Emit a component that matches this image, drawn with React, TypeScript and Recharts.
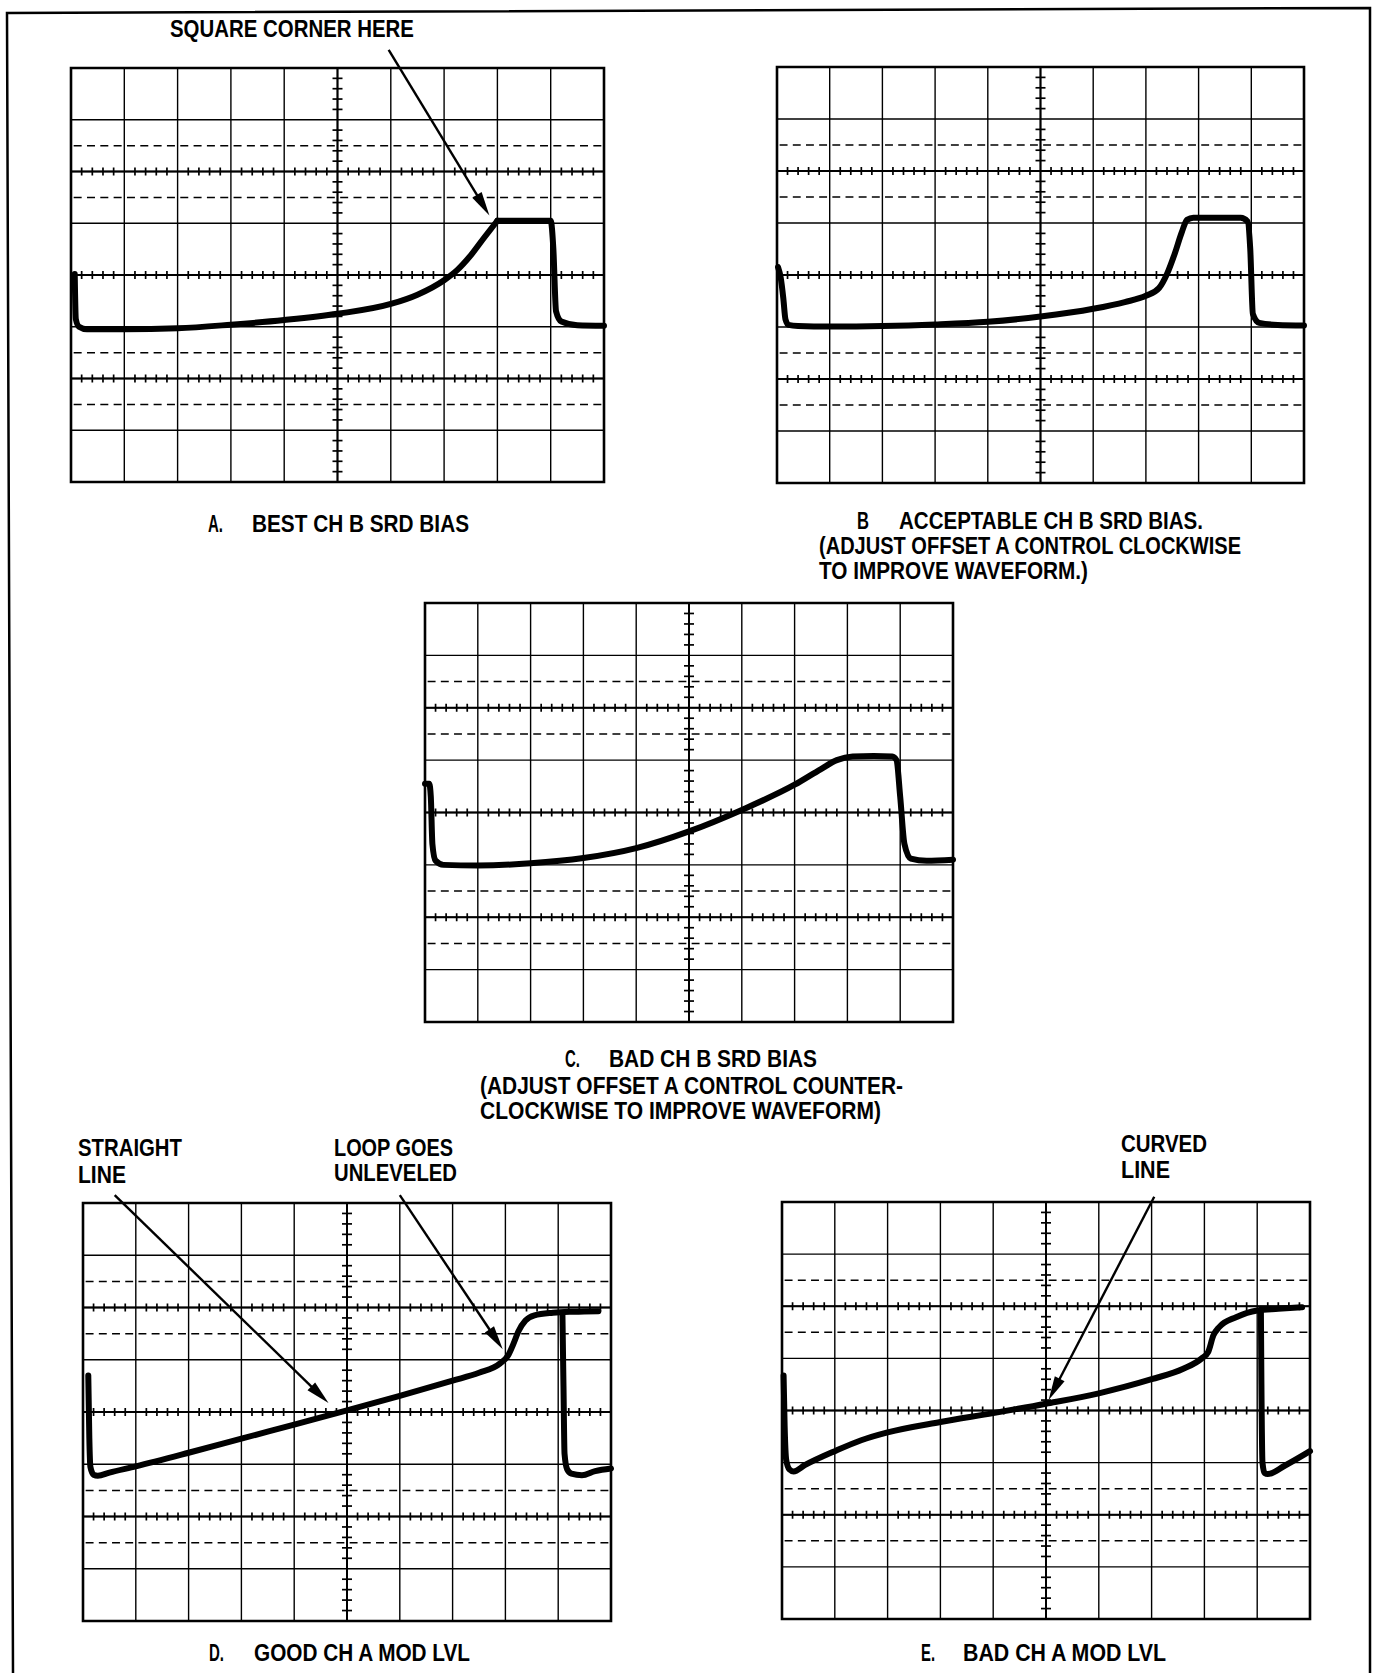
import React from "react"
import { ComposedChart, Line, Scatter, XAxis, YAxis, CartesianGrid, ReferenceLine, ReferenceArea } from "recharts"

// graticule: 10 x 8 divisions, centre at (5, 0)
const X_DIVS = [0, 1, 2, 3, 4, 5, 6, 7, 8, 9, 10]
const Y_DIVS = [-4, -3, -2, -1, 0, 1, 2, 3, 4]
const TICK_ROWS = [2, 0, -2]
const TICK_COL = 5
const DASH_ROWS = [2.5, 1.5, -1.5, -2.5]
const SUB = [0.2, 0.4, 0.6, 0.8]

// traces (x in divisions, y in divisions from centre)
const A_RISE = [
  { x: 0.07, y: 0.02 }, { x: 0.09, y: -0.85 }, { x: 0.15, y: -1.0 }, { x: 0.3, y: -1.05 },
  { x: 1, y: -1.05 }, { x: 2, y: -1.03 }, { x: 3, y: -0.96 }, { x: 4, y: -0.87 },
  { x: 5, y: -0.75 }, { x: 6, y: -0.56 }, { x: 6.5, y: -0.38 }, { x: 7, y: -0.1 },
  { x: 7.25, y: 0.1 }, { x: 7.5, y: 0.38 }, { x: 7.75, y: 0.72 }, { x: 8.0, y: 1.05 },
]
const A_PULSE = [
  { x: 8.0, y: 1.05 }, { x: 9.0, y: 1.05 }, { x: 9.05, y: 0.5 }, { x: 9.1, y: -0.7 },
  { x: 9.2, y: -0.9 }, { x: 9.5, y: -0.97 }, { x: 10, y: -0.98 },
]

const B_TRACE = [
  { x: 0.02, y: 0.15 }, { x: 0.07, y: -0.05 }, { x: 0.12, y: -0.45 }, { x: 0.16, y: -0.85 },
  { x: 0.22, y: -0.96 }, { x: 0.4, y: -0.98 }, { x: 1, y: -0.99 }, { x: 2, y: -0.98 },
  { x: 3, y: -0.95 }, { x: 4, y: -0.9 }, { x: 5, y: -0.8 }, { x: 6, y: -0.65 },
  { x: 6.6, y: -0.52 }, { x: 7.0, y: -0.4 }, { x: 7.25, y: -0.25 }, { x: 7.4, y: 0.02 },
  { x: 7.55, y: 0.42 }, { x: 7.68, y: 0.82 }, { x: 7.78, y: 1.06 }, { x: 7.9, y: 1.1 },
  { x: 8.8, y: 1.1 }, { x: 8.93, y: 1.03 }, { x: 8.98, y: 0.5 }, { x: 9.03, y: -0.75 },
  { x: 9.15, y: -0.92 }, { x: 9.5, y: -0.96 }, { x: 10, y: -0.97 },
]

const C_TRACE = [
  { x: 0.0, y: 0.55 }, { x: 0.08, y: 0.55 }, { x: 0.11, y: 0.3 }, { x: 0.14, y: -0.6 },
  { x: 0.2, y: -0.92 }, { x: 0.35, y: -1.0 }, { x: 1, y: -1.01 }, { x: 2, y: -0.97 },
  { x: 3, y: -0.87 }, { x: 4, y: -0.68 }, { x: 5, y: -0.36 }, { x: 6, y: 0.05 },
  { x: 7, y: 0.53 }, { x: 7.5, y: 0.83 }, { x: 7.8, y: 1.0 }, { x: 8.1, y: 1.07 },
  { x: 8.5, y: 1.08 }, { x: 8.85, y: 1.07 }, { x: 8.93, y: 1.0 }, { x: 9.0, y: 0.3 },
  { x: 9.08, y: -0.6 }, { x: 9.2, y: -0.88 }, { x: 9.5, y: -0.92 }, { x: 10, y: -0.9 },
]

const D_SWEEP = [
  { x: 0.1, y: 0.7 }, { x: 0.12, y: -0.5 }, { x: 0.14, y: -1.05 }, { x: 0.2, y: -1.2 },
  { x: 0.28, y: -1.22 }, { x: 0.5, y: -1.16 }, { x: 1, y: -1.04 }, { x: 2, y: -0.78 },
  { x: 3, y: -0.51 }, { x: 4, y: -0.24 }, { x: 5, y: 0.03 }, { x: 6, y: 0.31 },
  { x: 7, y: 0.6 }, { x: 7.5, y: 0.75 }, { x: 7.9, y: 0.93 }, { x: 8.05, y: 1.08 },
  { x: 8.15, y: 1.3 }, { x: 8.25, y: 1.55 }, { x: 8.38, y: 1.75 }, { x: 8.55, y: 1.85 },
  { x: 8.9, y: 1.9 }, { x: 9.3, y: 1.92 }, { x: 9.76, y: 1.93 },
]
const D_RETRACE = [
  { x: 9.08, y: 1.88 }, { x: 9.1, y: 0.5 }, { x: 9.12, y: -0.8 }, { x: 9.17, y: -1.1 },
  { x: 9.25, y: -1.18 }, { x: 9.45, y: -1.21 }, { x: 9.7, y: -1.13 }, { x: 10, y: -1.08 },
]

const E_SWEEP = [
  { x: 0.03, y: 0.67 }, { x: 0.05, y: -0.3 }, { x: 0.08, y: -0.95 }, { x: 0.14, y: -1.13 },
  { x: 0.22, y: -1.17 }, { x: 0.43, y: -1.05 }, { x: 1, y: -0.78 }, { x: 1.5, y: -0.57 },
  { x: 2, y: -0.42 }, { x: 3, y: -0.22 }, { x: 4, y: -0.05 }, { x: 5, y: 0.13 },
  { x: 6, y: 0.33 }, { x: 7, y: 0.6 }, { x: 7.6, y: 0.8 }, { x: 7.95, y: 1.0 },
  { x: 8.07, y: 1.12 }, { x: 8.17, y: 1.44 }, { x: 8.28, y: 1.6 }, { x: 8.6, y: 1.79 },
  { x: 9.0, y: 1.92 }, { x: 9.4, y: 1.95 }, { x: 9.85, y: 1.98 },
]
const E_RETRACE = [
  { x: 9.07, y: 1.92 }, { x: 9.08, y: 0.5 }, { x: 9.1, y: -1.0 }, { x: 9.14, y: -1.2 },
  { x: 9.2, y: -1.22 }, { x: 9.52, y: -1.06 }, { x: 10, y: -0.78 },
]

// arrows: [start, tip] in divisions
const A_ARROWS = [[{ x: 5.96, y: 4.35 }, { x: 7.85, y: 1.15 }]]
const D_ARROWS = [
  [{ x: 0.6, y: 4.15 }, { x: 4.65, y: 0.17 }],
  [{ x: 6.0, y: 4.15 }, { x: 7.95, y: 1.2 }],
]
const E_ARROWS = [[{ x: 7.05, y: 4.1 }, { x: 5.05, y: 0.2 }]]

const H_TICKS = X_DIVS.slice(0, -1).flatMap((d) => SUB.map((s) => d + s)).flatMap((x) => TICK_ROWS.map((y) => ({ x, y })))
const V_TICKS = Y_DIVS.slice(0, -1).flatMap((d) => SUB.map((s) => ({ x: TICK_COL, y: d + s })))

const LABELS = [
  { text: "SQUARE CORNER HERE", x: 170, y: 37, w: 244 },
  { text: "A.", x: 208, y: 532, w: 15 },
  { text: "BEST CH B SRD BIAS", x: 252, y: 532, w: 217 },
  { text: "B", x: 857, y: 529, w: 12 },
  { text: "ACCEPTABLE CH B SRD BIAS.", x: 899, y: 529, w: 304 },
  { text: "(ADJUST OFFSET A CONTROL CLOCKWISE", x: 819, y: 554, w: 422 },
  { text: "TO IMPROVE WAVEFORM.)", x: 819, y: 579, w: 269 },
  { text: "C.", x: 565, y: 1067, w: 15 },
  { text: "BAD CH B SRD BIAS", x: 609, y: 1067, w: 208 },
  { text: "(ADJUST OFFSET A CONTROL COUNTER-", x: 480, y: 1094, w: 423 },
  { text: "CLOCKWISE TO IMPROVE WAVEFORM)", x: 480, y: 1119, w: 401 },
  { text: "STRAIGHT", x: 78, y: 1156, w: 104 },
  { text: "LINE", x: 78, y: 1183, w: 48 },
  { text: "LOOP GOES", x: 334, y: 1156, w: 119 },
  { text: "UNLEVELED", x: 334, y: 1181, w: 123 },
  { text: "CURVED", x: 1121, y: 1152, w: 86 },
  { text: "LINE", x: 1121, y: 1178, w: 49 },
  { text: "D.", x: 209, y: 1661, w: 15 },
  { text: "GOOD CH A MOD LVL", x: 254, y: 1661, w: 216 },
  { text: "E.", x: 921, y: 1661, w: 14 },
  { text: "BAD CH A MOD LVL", x: 963, y: 1661, w: 203 },
]

const HTick = (p: any) => <line x1={p.cx} x2={p.cx} y1={p.cy - 4} y2={p.cy + 4} stroke="#000" strokeWidth={1.7} />
const VTick = (p: any) => <line x1={p.cx - 5} x2={p.cx + 5} y1={p.cy} y2={p.cy} stroke="#000" strokeWidth={1.7} />

const Arrow = (p: any) => {
  const { x1, y1, x2, y2 } = p
  if (![x1, y1, x2, y2].every((v) => Number.isFinite(v))) return <g />
  const dx = x2 - x1
  const dy = y2 - y1
  const len = Math.hypot(dx, dy) || 1
  const ux = dx / len
  const uy = dy / len
  const hl = 24
  const hw = 5.5
  const bx = x2 - ux * hl
  const by = y2 - uy * hl
  return (
    <g>
      <line x1={x1} y1={y1} x2={bx + ux * 2} y2={by + uy * 2} stroke="#000" strokeWidth={2.4} />
      <polygon points={`${x2},${y2} ${bx - uy * hw},${by + ux * hw} ${bx + uy * hw},${by - ux * hw}`} fill="#000" />
    </g>
  )
}

type Pt = { x: number; y: number }

function Scope({ left, top, width, height, traces, arrows = [] }: {
  left: number; top: number; width: number; height: number; traces: Pt[][]; arrows?: Pt[][]
}) {
  const M = { top: 30, right: 6, bottom: 6, left: 6 }
  const p = width / 40
  return (
    <div style={{ position: "absolute", left: left - M.left, top: top - M.top }}>
      <ComposedChart width={width + M.left + M.right} height={height + M.top + M.bottom} margin={M}>
        <XAxis type="number" dataKey="x" domain={[0, 10]} ticks={X_DIVS} hide />
        <YAxis type="number" domain={[-4, 4]} ticks={Y_DIVS} hide />
        <CartesianGrid stroke="#000" strokeWidth={1.4} />
        {DASH_ROWS.map((r) => (
          <ReferenceLine key={"d" + r} y={r} stroke="#000" strokeWidth={1.5}
            strokeDasharray={`${p * 0.6} ${p * 0.4}`} strokeDashoffset={-p * 0.2} />
        ))}
        {TICK_ROWS.map((r) => (
          <ReferenceLine key={"t" + r} y={r} stroke="#000" strokeWidth={2} />
        ))}
        <ReferenceLine x={TICK_COL} stroke="#000" strokeWidth={2} />
        <ReferenceArea x1={0} x2={10} y1={-4} y2={4} fill="none" fillOpacity={0} stroke="#000" strokeWidth={2.6} />
        <Scatter data={H_TICKS} dataKey="y" shape={HTick} isAnimationActive={false} />
        <Scatter data={V_TICKS} dataKey="y" shape={VTick} isAnimationActive={false} />
        {traces.map((t, i) => (
          <Line key={"tr" + i} data={t} dataKey="y" type="monotone" stroke="#000" strokeWidth={6}
            dot={false} activeDot={false} isAnimationActive={false} strokeLinejoin="round" strokeLinecap="round" />
        ))}
        {arrows.map((a, i) => (
          <ReferenceLine key={"a" + i} segment={a} ifOverflow="visible" shape={Arrow} />
        ))}
      </ComposedChart>
    </div>
  )
}

export default function App() {
  return (
    <div style={{ position: "absolute", left: 0, top: 0, width: 1373, height: 1673, background: "#fff", overflow: "hidden" }}>
      <svg width={1373} height={1673} style={{ position: "absolute", left: 0, top: 0 }}>
        <polyline points="13,1673 7,13 1370,8 1370,1673" fill="none" stroke="#000" strokeWidth={2.5} />
        {LABELS.map((l, i) => (
          <text key={i} x={l.x} y={l.y} textLength={l.w} lengthAdjust="spacingAndGlyphs"
            fontFamily="'Liberation Sans Narrow', 'Liberation Sans', Arial, sans-serif"
            fontWeight={700} fontSize={23} fill="#000">
            {l.text}
          </text>
        ))}
      </svg>
      <Scope left={71} top={68} width={533} height={414} traces={[A_RISE, A_PULSE]} arrows={A_ARROWS} />
      <Scope left={777} top={67} width={527} height={416} traces={[B_TRACE]} />
      <Scope left={425} top={603} width={528} height={419} traces={[C_TRACE]} />
      <Scope left={83} top={1203} width={528} height={418} traces={[D_SWEEP, D_RETRACE]} arrows={D_ARROWS} />
      <Scope left={782} top={1202} width={528} height={417} traces={[E_SWEEP, E_RETRACE]} arrows={E_ARROWS} />
    </div>
  )
}
